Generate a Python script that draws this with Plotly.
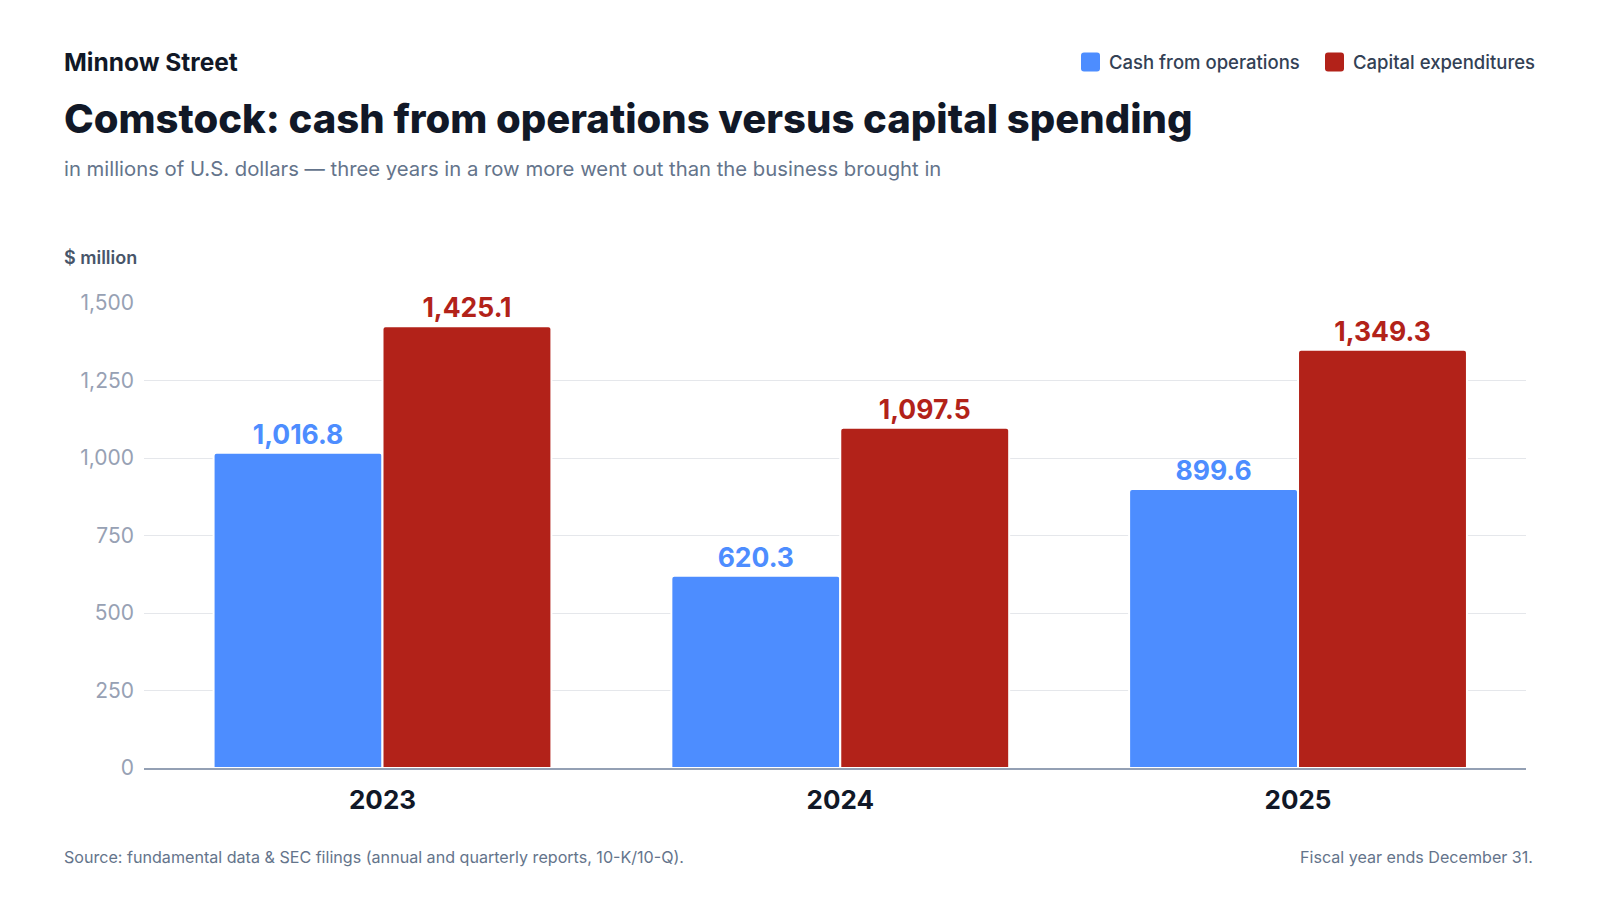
import plotly.graph_objects as go

years = ["2023", "2024", "2025"]
cash_ops = [1016.8, 620.3, 899.6]
capex = [1425.1, 1097.5, 1349.3]
y_ticks = [0, 250, 500, 750, 1000, 1250, 1500]
series_names = ["Cash from operations", "Capital expenditures"]

BLUE = "#4d8dff"
RED = "#b22219"
INK = "#111827"
FONT = "Inter"

# plot box in figure pixels
L, R, T, B = 136, 82, 295, 140
W, H = 1600, 900
PW, PH = W - L - R, H - T - B


def px(x):
    return (x - L) / PW


def py(y):
    return (H - B - y) / PH


fig = go.Figure()
for name, vals, col in [(series_names[0], cash_ops, BLUE), (series_names[1], capex, RED)]:
    fig.add_trace(go.Bar(
        x=years, y=vals, name=name,
        marker=dict(color=col, line=dict(color="white", width=2)),
        texttemplate="%{y:,.1f}", textposition="outside",
        textfont=dict(family=FONT, size=26.5, color=col, weight=700),
        cliponaxis=False,
    ))

fig.update_layout(
    width=W, height=H,
    margin=dict(l=L, r=R, t=T, b=B),
    paper_bgcolor="white", plot_bgcolor="white",
    font=dict(family=FONT, color=INK),
    barmode="group", bargap=0.262, bargroupgap=0.0,
    barcornerradius=3,
    showlegend=False,
)

fig.update_xaxes(
    range=[-0.521, 2.498],
    showgrid=False, showline=True, linecolor="#94a0b4", linewidth=2,
    ticks="", tickfont=dict(size=26, color=INK, weight=700),
    ticklabelstandoff=8,
)
fig.update_yaxes(
    range=[0, 1500], tickvals=y_ticks, tickformat=",",
    showgrid=True, gridcolor="#e5e7eb", gridwidth=1,
    zeroline=False, ticks="",
    tickfont=dict(size=21, color="#97a1b4"),
    ticklabelstandoff=9,
)

texts = [
    ("Minnow Street", 54, 54, 24.5, INK, 700),
    ("Comstock: cash from operations versus capital spending", 54, 111, 40, INK, 800),
    ("in millions of U.S. dollars \u2014 three years in a row more went out than the business brought in",
     54, 160, 20.3, "#64748b", 400),
    ("$ million", 54, 249, 18, "#475569", 600),
    ("Source: fundamental data &amp; SEC filings (annual and quarterly reports, 10-K/10-Q).",
     54, 849, 16.1, "#64748b", 400),
]
for txt, x, y, size, color, weight in texts:
    fig.add_annotation(
        text=txt, xref="paper", yref="paper", x=px(x), y=py(y),
        xanchor="left", yanchor="middle", showarrow=False,
        font=dict(family=FONT, size=size, color=color, weight=weight),
    )
fig.add_annotation(
    text="Fiscal year ends December 31.", xref="paper", yref="paper",
    x=px(1527), y=py(849), xanchor="right", yanchor="middle", showarrow=False,
    font=dict(family=FONT, size=16.1, color="#64748b"),
)


# legend: rounded squares + labels
def rounded_square(x0, y0, s, r):
    ax, ay = r / PW, r / PH
    X0, X1 = px(x0), px(x0 + s)
    Y0, Y1 = py(y0 + s), py(y0)
    return (f"M{X0 + ax},{Y0} L{X1 - ax},{Y0} Q{X1},{Y0} {X1},{Y0 + ay} "
            f"L{X1},{Y1 - ay} Q{X1},{Y1} {X1 - ax},{Y1} L{X0 + ax},{Y1} "
            f"Q{X0},{Y1} {X0},{Y1 - ay} L{X0},{Y0 + ay} Q{X0},{Y0} {X0 + ax},{Y0} Z")


legend_items = [(series_names[0], BLUE, 1073), (series_names[1], RED, 1317)]
for name, col, sx in legend_items:
    fig.add_shape(type="path", xref="paper", yref="paper",
                  path=rounded_square(sx, 44.5, 19, 3),
                  fillcolor=col, line=dict(width=0))
    fig.add_annotation(
        text=name, xref="paper", yref="paper", x=px(sx + 26), y=py(54),
        xanchor="left", yanchor="middle", showarrow=False,
        font=dict(family=FONT, size=18.5, color="#334155", weight=500),
    )

fig.write_html("out.html")
